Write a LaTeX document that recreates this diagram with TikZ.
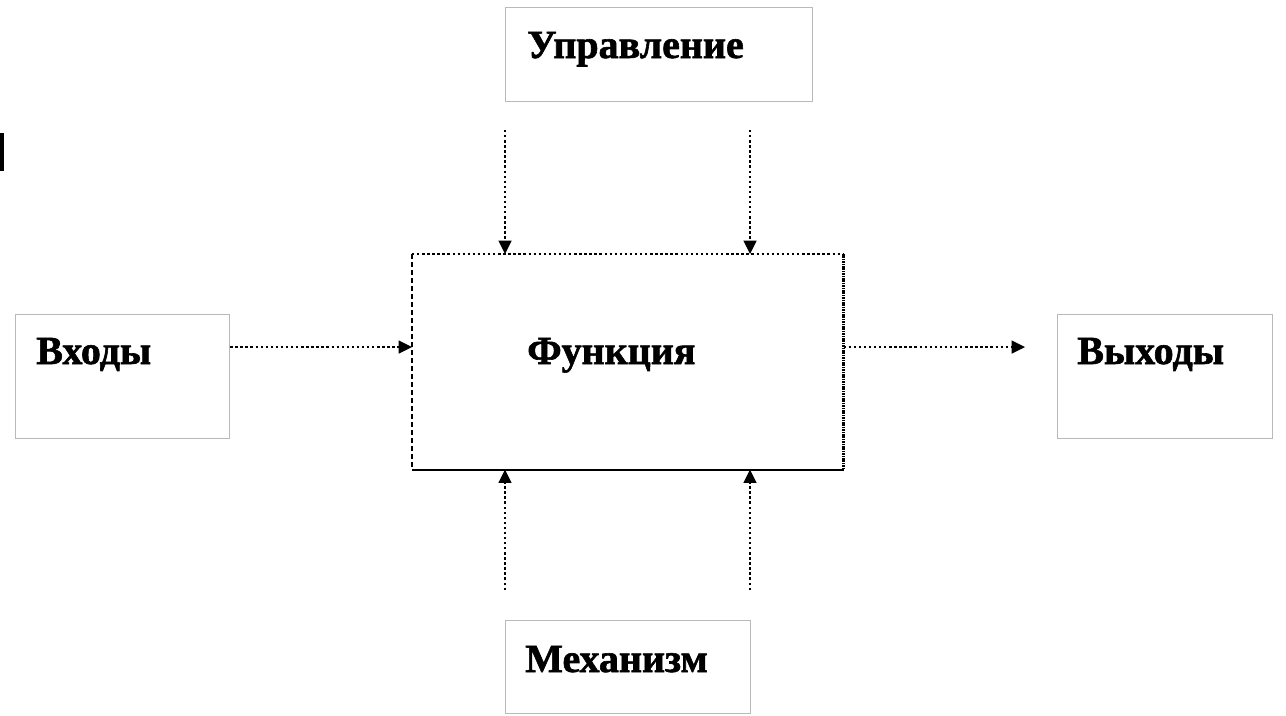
\documentclass[tikz,border=0pt]{standalone}
\usepackage{fontspec}
\setmainfont{Liberation Serif}
\newfontfamily\heavyserif[FakeBold=1.5]{Liberation Serif Bold}
\usetikzlibrary{arrows.meta}
\begin{document}
\begin{tikzpicture}[x=0.75pt,y=-0.75pt,
  frame/.style={draw=gray!55, line width=0.9pt, inner sep=0pt, anchor=north west},
  lbl/.style={font=\fontsize{30}{36}\selectfont\heavyserif, anchor=base west, inner sep=0pt},
  flow/.style={line width=1.8pt, dotted, -{Triangle[length=10pt,width=10pt,line width=0pt]}}]
\useasboundingbox (0,0) rectangle (1286,715);
% small bar at left edge
\fill[black] (0,133) rectangle (4,171);
% side boxes
\node[frame, minimum width=230.25pt, minimum height=70.5pt] (upr) at (505,7) {};
\node[frame, minimum width=160.5pt, minimum height=93pt] (vkh) at (15,314) {};
\node[frame, minimum width=161.25pt, minimum height=93pt] (vyh) at (1057,314) {};
\node[frame, minimum width=183.75pt, minimum height=69.75pt] (mek) at (505,620) {};
% function box
\node[inner sep=0pt, anchor=north west, minimum width=323.25pt, minimum height=161.25pt] (fun) at (412,254) {};
\draw[line width=1.8pt, dotted] (fun.north west) -- (fun.north east);
\draw[line width=1.8pt, dash pattern=on 4pt off 2pt] (fun.north west) -- (fun.south west);
\draw[line width=1.8pt, dash pattern=on 1.2pt off 0.6pt] (fun.north east) -- (fun.south east);
\draw[line width=1.5pt] (fun.south west) -- (fun.south east);
% labels
\node[lbl] (tupr) at (527,58) {Управление};
\node[lbl] (tvkh) at (36,364) {Входы};
\node[lbl] (tvyh) at (1077,364) {Выходы};
\node[lbl] (tmek) at (525,672) {Механизм};
\node[lbl] (tfun) at (527,364) {Функция};
% connector end coordinates
\coordinate (c1s) at (505,130);
\coordinate (c2s) at (750,130);
\coordinate (m1s) at (505,590);
\coordinate (m2s) at (750,590);
\coordinate (outE) at (1025,347);
% arrows
\draw[flow] (c1s) -- (c1s |- fun.north);
\draw[flow] (c2s) -- (c2s |- fun.north);
\draw[flow] (m1s) -- (m1s |- fun.south);
\draw[flow] (m2s) -- (m2s |- fun.south);
\draw[flow] (vkh.east |- 0,347) -- (fun.west |- 0,347);
\draw[flow] (fun.east |- 0,347) -- (outE);
\end{tikzpicture}
\end{document}
